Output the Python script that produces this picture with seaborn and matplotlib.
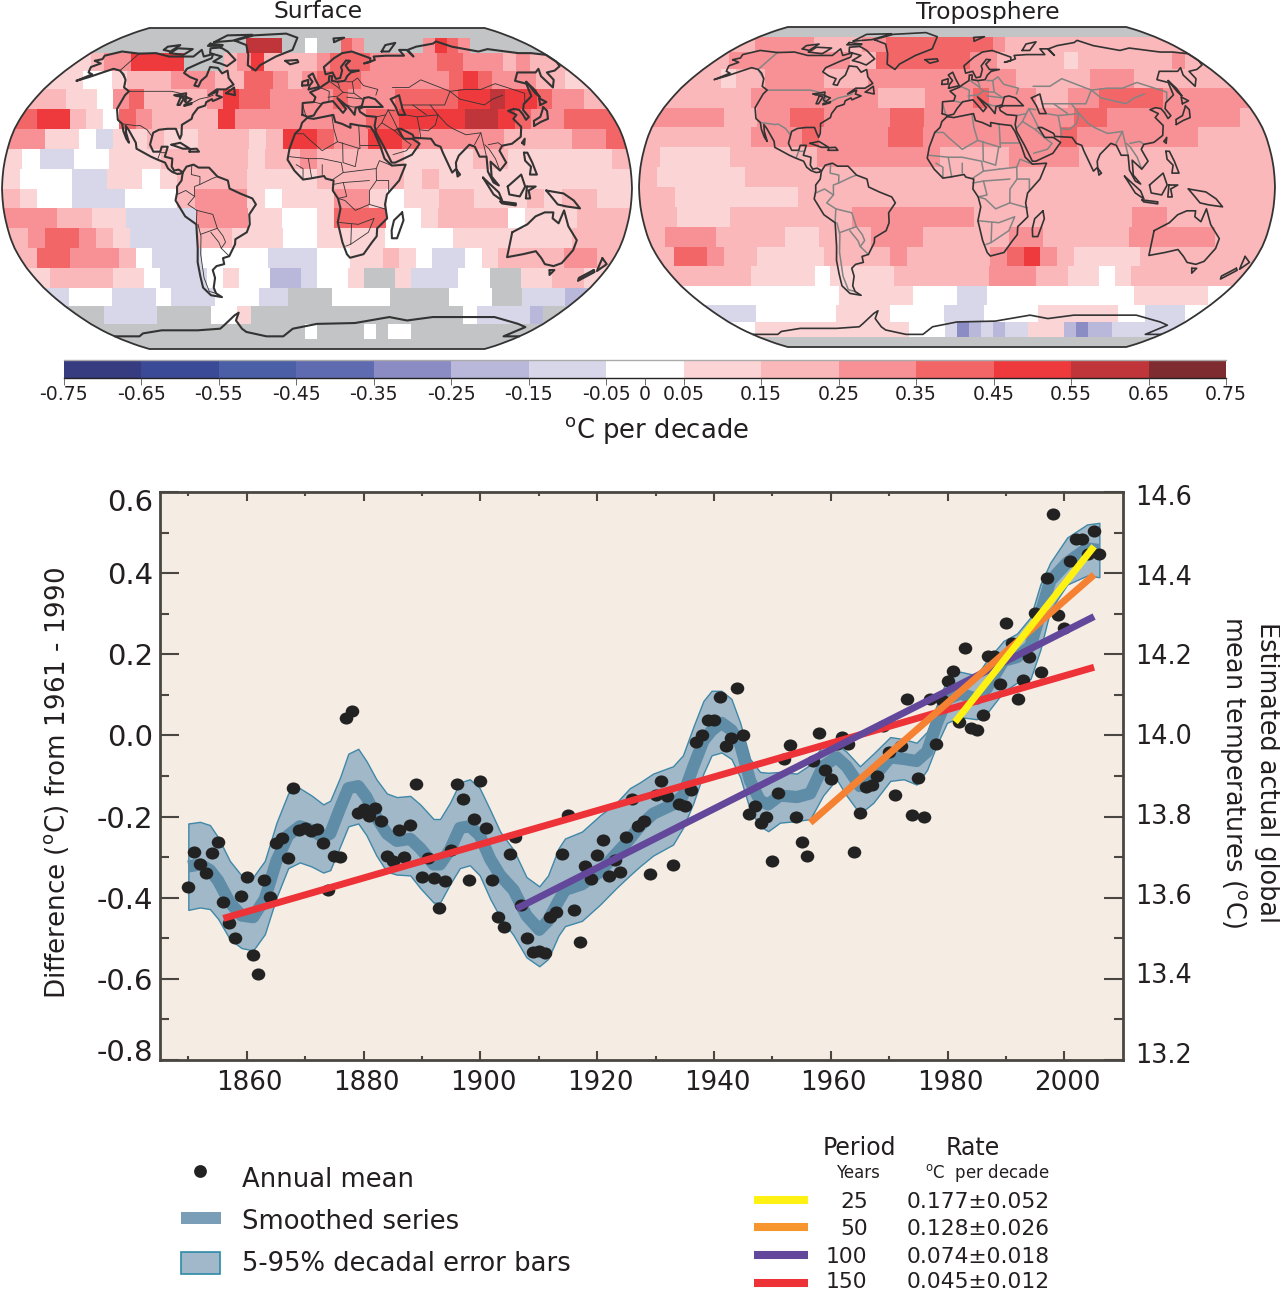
import numpy as np
import matplotlib
matplotlib.use("Agg")
import matplotlib.pyplot as plt
from matplotlib.colors import ListedColormap, BoundaryNorm
from matplotlib.markers import MarkerStyle
from matplotlib.patches import Polygon, Rectangle
from matplotlib.transforms import Affine2D, ScaledTranslation
import seaborn as sns

# ---------- chart data ----------
ANNUAL_START = 1850
ANNUAL_MEAN = [
 -.374,-.287,-.316,-.339,-.291,-.263,-.410,-.463,-.500,-.395,
 -.349,-.541,-.588,-.356,-.399,-.264,-.252,-.303,-.129,-.234,
 -.228,-.236,-.231,-.264,-.380,-.297,-.300,.043,.059,-.191,
 -.181,-.199,-.179,-.211,-.297,-.309,-.232,-.300,-.220,-.120,
 -.349,-.303,-.351,-.425,-.360,-.282,-.119,-.157,-.356,-.206,
 -.112,-.228,-.356,-.447,-.471,-.292,-.251,-.418,-.500,-.535,
 -.531,-.536,-.447,-.435,-.292,-.195,-.431,-.510,-.323,-.355,
 -.294,-.258,-.346,-.306,-.337,-.251,-.157,-.224,-.212,-.341,
 -.146,-.112,-.149,-.320,-.170,-.173,-.134,-.016,.002,.039,
 .039,.095,-.025,-.007,.117,.001,-.193,-.173,-.215,-.200,
 -.309,-.142,-.058,-.023,-.200,-.262,-.296,-.063,.005,-.086,
 -.108,-.020,-.003,-.020,-.287,-.191,-.128,-.123,-.101,.024,
 -.042,-.148,-.027,.090,-.197,-.105,-.200,.089,-.020,.087,
 .133,.160,.034,.216,.018,.013,.051,.196,.195,.126,
 .278,.228,.090,.137,.194,.302,.156,.387,.545,.296,
 .264,.430,.483,.483,.446,.504,.447]

BAND_YEARS = [1850,1852,1853.7,1855.1,1857.1,1859.1,1861.1,1863.1,1865.1,1867.1,1869.1,1871.1,1873.1,1874.3,
 1876,1877.4,1879.1,1880.5,1882.2,1884,1885.7,1888,1889.7,1892,1893.1,1894.8,1896.5,1898.2,1899.9,1901.7,
 1903.4,1905.7,1907.9,1910.1,1911.6,1913.4,1914.5,1917.4,1920.5,1923.3,1925.6,1927.3,
 1929.6,1933,1934.7,1936.5,1938.2,1939.6,1941.3,1943,1944.5,1946.2,1947.9,1949.3,1951.3,1954.2,1956.5,1958.7,
 1961,1962.7,1965,1967.3,1970.2,1972.5,1974.7,1976.5,1978.2,1979.9,1982.2,1985,1986.7,1989.6,1991.9,1994.2,
 1995.9,1997.6,2000.5,2003.9,2006]
BAND_UPPER = [-.217,-.213,-.221,-.251,-.309,-.345,-.349,-.309,-.215,-.143,-.130,-.148,-.170,-.161,
 -.103,-.045,-.033,-.063,-.108,-.143,-.152,-.149,-.170,-.206,-.206,-.166,-.116,-.108,-.130,-.184,
 -.237,-.282,-.349,-.372,-.345,-.278,-.254,-.237,-.197,-.166,-.130,-.116,
 -.094,-.076,-.049,.022,.085,.110,.110,.090,.031,-.058,-.090,-.092,-.090,-.094,-.072,-.022,
 -.022,-.040,-.076,-.045,-.004,-.009,-.018,.009,.076,.139,.157,.148,.184,.233,.251,.291,
 .372,.426,.488,.520,.524]
SMOOTHED = [-.323,-.318,-.332,-.358,-.412,-.444,-.448,-.403,-.309,-.246,-.224,-.233,-.251,-.242,
 -.179,-.130,-.125,-.152,-.202,-.242,-.260,-.255,-.278,-.318,-.318,-.282,-.228,-.224,-.246,-.305,
 -.345,-.381,-.444,-.479,-.457,-.408,-.381,-.367,-.336,-.291,-.255,-.224,
 -.193,-.170,-.148,-.076,-.013,.012,.031,.013,-.022,-.112,-.161,-.170,-.148,-.152,-.143,-.076,
 -.054,-.076,-.125,-.103,-.054,-.058,-.063,-.040,.031,.090,.103,.090,.116,.184,.193,.220,
 .300,.381,.426,.461,.457]
BAND_LOWER = [-.430,-.424,-.428,-.452,-.502,-.524,-.530,-.490,-.399,-.327,-.313,-.323,-.338,-.332,
 -.273,-.224,-.217,-.246,-.296,-.336,-.343,-.345,-.376,-.412,-.412,-.367,-.327,-.320,-.345,-.403,
 -.448,-.493,-.547,-.569,-.551,-.493,-.470,-.457,-.417,-.376,-.345,-.323,
 -.296,-.269,-.228,-.166,-.094,-.049,-.042,-.058,-.103,-.184,-.224,-.236,-.215,-.211,-.206,-.148,
 -.108,-.148,-.193,-.166,-.112,-.108,-.121,-.085,-.022,.031,.045,.040,.054,.108,.130,.139,
 .211,.309,.372,.394,.390]

TREND_150_X, TREND_150_Y = [1856, 2005.1], [-.451, .168]
TREND_100_X, TREND_100_Y = [1906.2, 2005.1], [-.427, .293]
TREND_50_X, TREND_50_Y = [1956.5, 2005.1], [-.215, .396]
TREND_25_X, TREND_25_Y = [1981.3, 2005.1], [.033, .466]

LEFT_TICKS = [.6,.4,.2,0,-.2,-.4,-.6,-.8]
LEFT_LABELS = ["0.6","0.4","0.2","0.0","-0.2","-0.4","-0.6","-0.8"]
RIGHT_TICKS = [14.6,14.4,14.2,14.0,13.8,13.6,13.4,13.2]
YEAR_TICKS = [1860,1880,1900,1920,1940,1960,1980,2000]

PERIODS = ["25","50","100","150"]
RATES = ["0.177±0.052","0.128±0.026","0.074±0.018","0.045±0.012"]

CBAR_EDGES = [-.75,-.65,-.55,-.45,-.35,-.25,-.15,-.05,.05,.15,.25,.35,.45,.55,.65,.75]
CBAR_COLORS = ["#373b7f","#3b4a96","#4a5fa5","#5f6bb0","#8c8cc4","#b9b8da","#d8d7ea","#ffffff",
               "#fbd5d6","#fab8ba","#f79195","#f26668","#ee3a3d","#c0353a","#7f2c30"]
CBAR_LABELS = ["-0.75","-0.65","-0.55","-0.45","-0.35","-0.25","-0.15","-0.05",
               "0.05","0.15","0.25","0.35","0.45","0.55","0.65","0.75"]
CELL_VALUE = {'.':np.nan,'a':-.3,'b':-.2,'c':-.1,'0':0,'1':.1,'2':.2,'3':.3,'4':.4,'5':.5,'6':.6}

# trend per decade class, one string per 10 degree latitude band, 36 cells of 10 degrees longitude
SURFACE_ROWS = [
 ".... .... .... .... .... .... .... .... ....",
 ".... .... .... 666. .0.. 43.. ...3 543. ....",
 "1233 5555 ...2 3522 2234 4433 3334 4333 2322",
 "1100 1222 3332 2443 2344 4333 3334 5433 3221",
 "2211 0342 2223 5443 3334 3334 4445 5655 4332",
 "4552 1043 2222 5333 3333 3445 5556 6543 3444",
 "3311 0c11 2112 2212 5543 3554 3333 3222 2334",
 "10cc 0011 1222 2212 2322 2221 1112 2111 1112",
 "1000 cc11 0122 2211 1122 2221 2111 1111 1111",
 "2100 ccc0 0023 3310 1113 3101 1221 1121 2211",
 "3332 211c ccc3 3311 0014 4400 1222 2011 1222",
 "2344 321c ccc2 2111 0011 1100 0011 1111 1222",
 "2443 3320 ccc0 000c cc00 1121 0cc0 1222 2332",
 "1222 2110 ccc0 100b bc00 1..1 ccc0 0..1 1221",
 "c000 ccc0 ccc0 00cc ...0 000. ...0 00.. cccb",
 "..cc cc.. ..00 1... .... .... .... .0cc ccb.",
 ".... .... .... .... .0.. ..0. 00.. .... ....",
 ".... .... .... .... .... .... .... .... ....",
]
TROPOSPHERE_ROWS = [
 ".... .... .... .... .... .... .... .... ....",
 "2333 3322 2233 4444 4444 4322 2222 2222 2222",
 "2333 3333 3322 4444 4443 3222 2212 2222 2232",
 "2212 2333 3222 3333 3333 3322 2223 3322 2222",
 "2222 2333 3333 3222 3334 3332 2334 4443 3333",
 "3333 2233 4433 3344 3333 3333 3443 3333 3332",
 "2222 2233 3433 3344 3333 3333 4333 3333 2222",
 "2111 1222 2233 3333 3222 2333 3222 2222 2222",
 "2111 1122 2222 2222 2222 2222 2222 2222 2222",
 "2211 1111 1222 2222 2222 2222 2222 2222 2222",
 "2211 1222 2222 3333 3332 2222 2222 3322 2222",
 "2333 2222 1122 2333 2222 2332 2222 3333 3222",
 "2443 2211 1122 2232 2222 3453 2111 1222 2222",
 "2222 2111 1011 1122 2222 3332 2110 1222 2222",
 "0000 0000 0011 1110 00cc 0000 0000 0011 1110",
 "ccc0 0000 0111 1000 0ccc 0000 1111 1100 ccc0",
 "0111 1111 1111 1100 0cab cbcc 111b abbc cccc",
 ".... .... .... .... .... .... .... .... ....",
]

# rough outlines, (longitude, latitude)
NORTH_AMERICA = [(-168,65.5),(-164,66.5),(-166,68.5),(-157,71),(-141,69.7),(-128,70),(-115,68),(-108,68),(-96,68),(-94,72),(-88,68),(-82,69.5),(-81,67),(-87,64.5),(-94,61),(-94,58.7),(-88,56.5),(-82,55),(-82,52),(-79,51.5),(-79,54.5),(-77,57),(-78,62),(-72,61.5),(-67,58.5),(-64,60),(-61,56),(-56,52.5),(-60,50),(-66,50),(-70,47),(-65,49),(-65,47),(-61,46),(-66,44),(-67,45),(-70,43.5),(-70,41.7),(-74,40.5),(-76,37),(-76,35),(-81,32),(-80,27),(-80.5,25),(-82,27),(-84,30),(-89,30),(-94,29.5),(-97,28),(-97.5,22),(-95,18.5),(-91,18.5),(-90.5,21),(-87,21),(-88,16),(-83.5,15),(-83.5,11),(-82,9),(-79.5,9.5),(-77.5,8.5),(-78,7.5),(-80,7.3),(-83,8.3),(-85.5,10),(-87.5,13),(-92,14.5),(-96,16),(-105,20),(-106,23),(-112,29.5),(-114.5,31.5),(-113,28),(-110,23),(-112,25),(-115,29),(-117,32.5),(-120.5,34.5),(-124,40),(-124,47),(-123,49),(-128,51),(-131,55),(-136,58),(-141,60),(-147,61),(-152,59),(-158,56.5),(-164,54.5),(-158,58),(-162,59),(-165,62),(-161,64),(-168,65.5)]
SOUTH_AMERICA = [(-77,8),(-75,11),(-71,12),(-68,10.5),(-62,10.5),(-57,6),(-51,4),(-50,0),(-44,-2.5),(-37,-5),(-35,-8),(-39,-13),(-39,-18),(-41,-22),(-48,-25.5),(-48.5,-28),(-53,-34),(-57,-35),(-57,-38),(-62,-39),(-65,-41),(-65,-45),(-68,-50),(-68,-53),(-65,-55),(-72,-54),(-75,-50),(-74,-44),(-73,-37),(-71,-30),(-70,-18),(-76,-14),(-81,-6),(-80,-2),(-80,1),(-77.5,4),(-77,8)]
AFRICA = [(-6,35.5),(-2,35),(10,37),(11,33.5),(15,32.5),(20,30.5),(20,32.5),(25,31.7),(32,31),(34,28),(37,21),(39,15),(43,11.5),(51,12),(47,4),(40,-3),(39,-8),(40.5,-15),(35,-20),(35,-24),(32.5,-27),(28,-33),(20,-34.8),(18,-33),(15,-27),(12,-17),(13.5,-10),(12,-5),(9,-1),(9.5,4),(5,5),(4,6.3),(-4,5),(-8,4.5),(-13,9),(-17,14.5),(-16,20),(-13,27.5),(-10,30),(-9,33),(-6,35.5)]
EURASIA = [(-9,37),(-9,43),(-2,43.5),(-1,46),(-4.5,48.5),(1.5,50.5),(4,52),(8,54),(8.5,57),(10.5,57),(10,54.5),(14,54),(19,54.5),(21,57),(24,59),(30,60),(23,60),(21,63),(25,65.5),(22,65.7),(17.5,62),(18,60),(16,56),(13,55.5),(11,59),(6,58),(5,62),(13,67),(20,70),(28,71),(41,67),(40,65),(35,64),(38,64.5),(44,66),(44,68),(54,68.5),(68,68.5),(67,72),(73,72),(75,68),(74,72),(83,74),(100,76),(105,77.5),(113,74),(130,71),(140,72.5),(160,70),(170,70),(180,69),(180,65),(178,62.5),(170,60),(163,59),(162,55),(156.5,51),(156,57),(160,61),(155,59),(142,59),(135,54.5),(141,53),(138,46.5),(130,42.5),(127.5,39.5),(129,36),(126.5,34.5),(126,37.5),(125,39.5),(122,40),(118,39),(122,37),(119,35),(122,31),(120,26),(114,22.5),(108,21.5),(106,19),(109,13),(105,9),(100,13.5),(100,6),(104,1.5),(101,3),(98,8.5),(98,16),(94,16),(92,21),(89,22),(82,16.5),(80,13),(80,10),(77.5,8),(73,18),(72,21),(69,22),(67,25),(57,25.5),(56.5,27),(50,30),(48,30),(51,25),(56,25),(60,22.5),(55,17),(45,13),(43,13),(39,21),(35,28),(34.5,31.5),(36,36),(30,36.5),(26.5,38.5),(26,40),(29,41),(41,41),(37,45),(33,46),(30,45.5),(28,41.5),(24,40.5),(23,37),(19.5,41),(13,45.5),(18,40),(16,38),(10,44),(3.5,43),(0,39.5),(-2,36.7),(-5.5,36),(-9,37)]
GREENLAND = [(-73,78),(-60,82),(-30,83.5),(-18,80),(-20,72),(-32,68),(-42,63),(-44,60),(-51,63),(-54,69),(-60,75),(-73,78)]
AUSTRALIA = [(114,-22),(122,-18),(126,-14),(131,-12),(136,-12),(136,-15),(140,-17.5),(142,-11),(146,-19),(153,-26),(153,-31),(150,-37.5),(146,-39),(140,-38),(136,-35),(131,-31.5),(124,-33),(115,-34.5),(114,-26),(114,-22)]
ANTARCTICA = [(-180,-78),(-158,-78),(-150,-76),(-130,-74),(-100,-74),(-80,-73),(-75,-71),(-62,-65),(-58,-63.5),(-63,-68),(-62,-73),(-60,-75),(-45,-78),(-30,-78),(-20,-73),(0,-70),(30,-69.5),(55,-66),(70,-68),(88,-66),(110,-66),(135,-66),(160,-70),(170,-72),(166,-78),(180,-78)]
ISLANDS = [
 [(-80,73.5),(-72,71),(-62,66),(-66,62.5),(-72,64),(-78,65),(-74,68),(-85,70),(-88,73),(-80,73.5)],
 [(-117,70),(-105,69),(-102,72.5),(-115,73),(-117,70)],
 [(-90,77),(-75,78),(-62,82.5),(-85,82),(-90,77)],
 [(-125,72),(-118,71),(-116,75),(-125,74),(-125,72)],
 [(-92,76),(-80,75),(-80,74.5),(-92,74.5),(-92,76)],
 [(-59,48),(-53,47),(-55,51),(-59,48)],
 [(-85,22),(-80,23),(-74,20),(-78,20),(-85,22)],
 [(-74,18.5),(-68.5,18.5),(-70,20),(-74,19.8),(-74,18.5)],
 [(-24,65.5),(-15,66),(-14,64.7),(-20,63.5),(-24,65.5)],
 [(-5.5,50),(1.5,51.3),(-1,55),(-3,58.5),(-6,57),(-3,54),(-5,52),(-5.5,50)],
 [(-10,52),(-6,52.2),(-6,55),(-10,54),(-10,52)],
 [(15,77),(25,80),(15,79.5),(15,77)],
 [(52,71),(58,71),(68,76.5),(58,75),(52,71)],
 [(142,54),(143,50),(143,46),(142,48),(142,54)],
 [(130,31.5),(135,33.5),(140,35),(142,39),(141,41),(140,40),(136,36),(131,34),(130,31.5)],
 [(140,42),(145,43.5),(142,45.5),(140,42)],
 [(120,23),(122,25),(121,22),(120,23)],
 [(120,18),(122,18),(124,13),(126,7),(122,7),(123,11),(120,14),(120,18)],
 [(109,1),(117,7),(119,1),(116,-4),(110,-3),(109,1)],
 [(95,5.5),(104,-2),(106,-6),(101,-3),(95,5.5)],
 [(105,-6.5),(114,-7.5),(114,-8.5),(106,-7.5),(105,-6.5)],
 [(120,1),(125,1),(121,-1),(122,-5),(119.5,-5),(120,1)],
 [(131,-1),(141,-2.5),(147,-6),(151,-10),(143,-9),(138,-8),(134,-4),(131,-1)],
 [(80,9.5),(82,7),(80.5,6),(80,9.5)],
 [(49,-12),(50,-16),(47,-25),(44,-25),(43.5,-21),(44.5,-16),(49,-12)],
 [(145,-41),(148,-41),(147,-43.5),(145,-41)],
 [(173,-35),(178,-38),(175,-41.5),(174,-39),(173,-35)],
 [(172.5,-41),(174,-42),(168,-46.5),(167,-45),(172.5,-41)],
 [(47,45),(53,47),(53,40),(54,37),(50,37),(49,41),(47,45)],
 [(-92,47),(-85,48),(-84.5,46.5),(-90,46.5),(-92,47)],
 [(-87.5,46),(-85,45.5),(-86,42),(-87.5,42),(-87.5,46)],
 [(-84,46),(-80,45),(-82,43),(-84,44),(-84,46)],
 [(-83,42),(-79,43),(-79,42.5),(-83,41.5),(-83,42)],
]
BORDERS = [
 [(-123,49),(-95,49),(-89,48),(-83,46),(-83,42),(-79,43),(-75,45),(-70,46),(-67,47)],
 [(-141,70),(-141,60),(-131,55)],
 [(-117,32.5),(-108,31.5),(-106,31.7),(-101,29.5),(-97,26)],
 [(-92,14.5),(-91,18),(-88,18)],
 [(-70,-18),(-69,-11),(-74,-8),(-70,-4),(-70,1),(-67,2),(-60,5),(-57,6)],
 [(-69,-18),(-68,-24),(-70,-33),(-72,-45),(-72,-52),(-68,-53)],
 [(-69,-11),(-60,-13),(-58,-20),(-55,-24),(-54,-27),(-57,-30),(-53,-34)],
 [(-72,12),(-72,7),(-67,6),(-67,2)],
 [(-80,-3),(-75,-1),(-70,-4)],
 [(-68,-23),(-58,-20)],[(-62,-22),(-58,-27),(-57,-30)],
 [(-13,27.5),(-8,27.5),(-5,25),(3,19),(12,23.5),(10,30),(9,37)],
 [(12,23.5),(25,20),(25,31.7)],[(25,22),(36,22)],[(15,23),(15,13),(22,11),(24,20)],
 [(-16,16),(-5,15),(3,15),(14,13),(15,8),(9,4.5)],[(-8,4.5),(-8,10),(-12,12)],[(3,7),(3,12)],
 [(24,9),(34,10),(36,14),(43,11.5)],[(34,10),(34,4),(41,4),(41,-2)],
 [(34,4),(30,-1),(30,-8),(40,-10.5)],[(12,-5),(16,-6),(22,-11),(30,-8)],
 [(12,-17),(24,-18),(33,-15),(30,-22),(20,-28),(17,-29)],[(20,-18),(20,-28)],
 [(15,8),(24,9)],[(15,3),(30,4)],[(9,2),(15,3),(17,-4),(12,-5)],[(-5,15),(-3,5)],
 [(-2,43.5),(3,42.5)],[(-9,42),(-7,37)],[(2,51),(8,49),(7.5,44)],
 [(8,54.5),(14,51),(17,48.5),(13.5,46.5),(7,46)],[(14,54),(15,51)],
 [(24,54),(24,48),(29,45)],[(20,54),(24,54),(28,56),(31,52),(40,50),(38,47)],
 [(17,48.5),(22,48),(24,48)],[(19,42),(22,41),(26,41)],[(19,46),(29,45)],
 [(36,36),(42,37),(44,39.5),(48,39)],[(42,37),(39,33),(35,29.5)],
 [(39,33),(46,29),(48,30)],[(46,29),(52,24),(55,22),(52,19),(44,17)],
 [(44,39.5),(46,35),(48,30)],[(54,37),(61,36),(61,30),(61,25)],
 [(61,36),(74,37),(71,32),(66,29),(61,29.5)],
 [(74,37),(78,32),(81,30),(88,27),(97,28),(92,22)],[(97,28),(98,16)],
 [(50,51),(61,51),(71,55),(87,49),(98,50),(108,50),(120,53),(135,48),(131,43)],
 [(87,49),(91,45),(105,42),(112,45),(120,47)],[(53,42),(60,42),(67,37)],
 [(71,42),(80,42),(87,49)],[(74,37),(71,42),(60,42)],
 [(100,22),(106,23),(108,21.5)],[(98,22),(100,20),(103,15),(105,9)],
]

# Robinson projection table
ROB_LAT = np.arange(0, 95, 5)
ROB_LEN = [1,.9986,.9954,.9900,.9822,.9730,.9600,.9427,.9216,.8962,.8679,.8350,.7986,.7597,.7186,.6732,.6213,.5722,.5322]
ROB_DEP = [0,.0620,.1240,.1860,.2480,.3100,.3720,.4340,.4958,.5571,.6176,.6769,.7346,.7903,.8435,.8936,.9394,.9761,1]

def robinson(lon, lat):
    lon, lat = np.asarray(lon, float), np.asarray(lat, float)
    return (0.8487 * np.interp(np.abs(lat), ROB_LAT, ROB_LEN) * np.radians(lon),
            1.3523 * np.sign(lat) * np.interp(np.abs(lat), ROB_LAT, ROB_DEP))

# ---------- drawing ----------
sns.set_style("ticks")
plt.rcParams["font.family"] = ["DejaVu Sans"]
plt.rcParams["mathtext.fontset"] = "dejavusans"
plt.rcParams["axes.axisbelow"] = False
TXT = "#231f20"
W, H = 1280, 1291
fig = plt.figure(figsize=(W/100, H/100), dpi=100)

def px_axes(left, top, right, bottom, **kw):
    return fig.add_axes([left/W, 1-bottom/H, (right-left)/W, (bottom-top)/H], **kw)

cmap = ListedColormap(CBAR_COLORS)
cmap.set_bad("#c2c4c5")
norm = BoundaryNorm(CBAR_EDGES, cmap.N)

def draw_map(box, rows, coast_lw, coast_col, border_lw, border_col):
    ax = px_axes(*box)
    ax.axis("off")
    lat_side = np.linspace(-90, 90, 91)
    xo, yo = robinson(np.r_[np.full(91, 180), np.full(91, -180)], np.r_[lat_side, lat_side[::-1]])
    outline = Polygon(np.c_[xo, yo], closed=True, fc="none", ec="#333333", lw=1.3, zorder=6, clip_on=False)
    ax.add_patch(outline)
    ax.set_xlim(-0.8487*np.pi, 0.8487*np.pi)
    ax.set_ylim(-1.3523, 1.3523)
    for i, row in enumerate(rows):
        vals = np.ma.masked_invalid([[CELL_VALUE[c] for c in row.replace(" ", "")]])
        top, bot = 90-10*i, 80-10*i
        lons = np.arange(-180, 181, 10, dtype=float)
        xs, _ = robinson(lons, np.full(37, (top+bot)/2))
        xs[0] *= 1.4; xs[-1] *= 1.4
        _, ye = robinson([0, 0], [bot, top])
        m = ax.pcolormesh(xs, ye, vals, cmap=cmap, norm=norm, shading="flat", edgecolor="none", zorder=1)
        m.set_clip_path(outline)
    for pl in BORDERS:
        a = np.array(pl)
        xb, yb = robinson(a[:, 0], a[:, 1])
        ax.plot(xb, yb, color=border_col, lw=border_lw, zorder=3)
    for pl in [NORTH_AMERICA, SOUTH_AMERICA, AFRICA, EURASIA, GREENLAND, AUSTRALIA, ANTARCTICA] + ISLANDS:
        a = np.array(pl)
        xb, yb = robinson(a[:, 0], a[:, 1])
        ax.plot(xb, yb, color=coast_col, lw=coast_lw, zorder=4, solid_joinstyle="round")
    return ax

draw_map((2, 28, 632, 349), SURFACE_ROWS, 1.5, "#333333", 0.6, "#333333")
draw_map((639, 27, 1275, 347), TROPOSPHERE_ROWS, 1.2, "#333333", 1.1, "#848484")

# colour bar
cax = px_axes(64, 360, 1226, 378)
mids = (np.array(CBAR_EDGES[:-1]) + np.array(CBAR_EDGES[1:])) / 2
sns.heatmap(np.array([mids]), cmap=cmap, norm=norm, cbar=False, ax=cax, xticklabels=False, yticklabels=False)
cax.set_yticks([])
pos = list(range(8)) + [7.5] + list(range(8, 16))
labs = CBAR_LABELS[:8] + ["0"] + CBAR_LABELS[8:]
cax.set_xticks(pos, labs)
cax.tick_params(axis="x", length=5, width=0.6, color="#555555", labelsize=13.6, labelcolor=TXT, pad=0, bottom=True)
for s in ["left", "right"]:
    cax.spines[s].set_visible(False)
cax.spines["top"].set_visible(True); cax.spines["top"].set_color("#aaaaaa"); cax.spines["top"].set_linewidth(1)
cax.spines["bottom"].set_visible(True); cax.spines["bottom"].set_color("#222222"); cax.spines["bottom"].set_linewidth(1)

# main panel
ax = px_axes(160, 492, 1122.7, 1060, facecolor="#f5ece4")
years = ANNUAL_START + np.arange(len(ANNUAL_MEAN))
ax.fill_between(BAND_YEARS, BAND_LOWER, BAND_UPPER, facecolor="#a1b8c8", edgecolor="#3f88a8", lw=1.0, zorder=2)
sns.lineplot(x=BAND_YEARS, y=SMOOTHED, ax=ax, color="#5f8ca6", lw=8.8, sort=False, estimator=None,
             solid_capstyle="butt", zorder=3)
dot = MarkerStyle("o", transform=Affine2D().scale(1.12, 1.0))
sns.scatterplot(x=years, y=ANNUAL_MEAN, ax=ax, color="#222222", s=76, marker=dot, linewidth=0, zorder=4)
for xs, ys, col, z in [(TREND_150_X, TREND_150_Y, "#ee3338", 5), (TREND_100_X, TREND_100_Y, "#63479b", 6),
                       (TREND_50_X, TREND_50_Y, "#f58233", 7), (TREND_25_X, TREND_25_Y, "#fff212", 8)]:
    sns.lineplot(x=xs, y=ys, ax=ax, color=col, lw=5, solid_capstyle="butt", zorder=z, estimator=None)
ax.set_xlim(1845.15, 2010)
ax.set_ylim(-.8, .6)
ax.set_xlabel(""); ax.set_ylabel("")

# right axis labels sit on their own slightly compressed scale
axr = ax.twinx()
axr.set_ylim(13.1824, 14.6075)
axr.set_yticks(RIGHT_TICKS, [f"{v:.1f}" for v in RIGHT_TICKS])
axr.tick_params(axis="y", length=0, labelsize=18.4, labelcolor=TXT, pad=9)
axr.grid(False)
for s in axr.spines.values():
    s.set_visible(False)

ax.set_xticks(YEAR_TICKS, [str(y) for y in YEAR_TICKS])
ax.set_xticks(np.arange(1850, 2010, 20), minor=True)
ax.set_yticks(LEFT_TICKS, LEFT_LABELS)
ax.set_yticks(np.arange(-.7, .6, .2), minor=True)
EDGE = "#4a4641"
ax.yaxis.set_ticks_position("both")
ax.xaxis.set_ticks_position("both")
ax.tick_params(axis="x", which="major", direction="in", length=6.5, width=1.5, color=EDGE,
               labelbottom=True, labeltop=False, labelsize=18.8, labelcolor=TXT, pad=7)
ax.tick_params(axis="x", which="minor", direction="in", length=3.2, width=1.5, color=EDGE)
ax.tick_params(axis="y", which="major", direction="in", length=13.7, width=1.5, color=EDGE,
               labelleft=True, labelright=False, labelsize=21, labelcolor=TXT, pad=5)
ax.tick_params(axis="y", which="minor", direction="in", length=6.5, width=1.5, color=EDGE)
for s in ax.spines.values():
    s.set_visible(True); s.set_color(EDGE); s.set_linewidth(2)
ylabs = ax.get_yticklabels()
ylabs[0].set_transform(ylabs[0].get_transform() + ScaledTranslation(0, -8/100, fig.dpi_scale_trans))
ylabs[-1].set_transform(ylabs[-1].get_transform() + ScaledTranslation(0, 10/100, fig.dpi_scale_trans))
for lab in ax.get_xticklabels():
    lab.set_transform(lab.get_transform() + ScaledTranslation(3/100, 0, fig.dpi_scale_trans))

# overlay for titles, axis names and legends
ov = fig.add_axes([0, 0, 1, 1], zorder=10)
ov.set_xlim(0, W); ov.set_ylim(H, 0); ov.axis("off"); ov.patch.set_alpha(0)
def T(x, y, s, size, ha="center", rot=0, **kw):
    ov.text(x, y, s, fontsize=size, ha=ha, va="center", rotation=rot, color=TXT, **kw)
T(318, 11, "Surface", 16.8)
T(988, 12, "Troposphere", 16.8)
T(656, 430, r"$^{\mathrm{o}}$C per decade", 18.6)
T(57, 783, r"Difference ($^{\mathrm{o}}$C) from 1961 - 1990", 18.8, rot=90)
T(1249, 772, "Estimated actual global\n" + r"mean temperatures ($^{\mathrm{o}}$C)", 18.4, rot=270, linespacing=1.25)

ov.scatter([200], [1171], s=85, color="#222222", linewidths=0)
ov.add_patch(Rectangle((181, 1212), 40, 12, fc="#7a9db8", ec="none"))
ov.add_patch(Rectangle((181, 1252), 39, 22, fc="#a0b8c9", ec="#2e8aa8", lw=1.2))
T(242, 1180, "Annual mean", 18.6, ha="left")
T(242, 1222, "Smoothed series", 18.6, ha="left")
T(242, 1264, "5-95% decadal error bars", 18.6, ha="left")

T(859, 1148, "Period", 17)
T(973, 1148, "Rate", 17)
T(858, 1173, "Years", 12)
T(987, 1173, r"$^{\mathrm{o}}$C  per decade", 12)
for y, ty, per, rate, col in zip([1200, 1227, 1255, 1283], [1202, 1229, 1257, 1282], PERIODS, RATES,
                                 ["#fff212", "#f7962f", "#63479b", "#ee3338"]):
    ov.plot([754, 808], [y, y], color=col, lw=5.8, solid_capstyle="butt")
    T(854 if len(per) == 2 else 846, ty, per, 15.7)
    T(978, ty, rate, 15.7)

fig.savefig("out.png", dpi=100)
